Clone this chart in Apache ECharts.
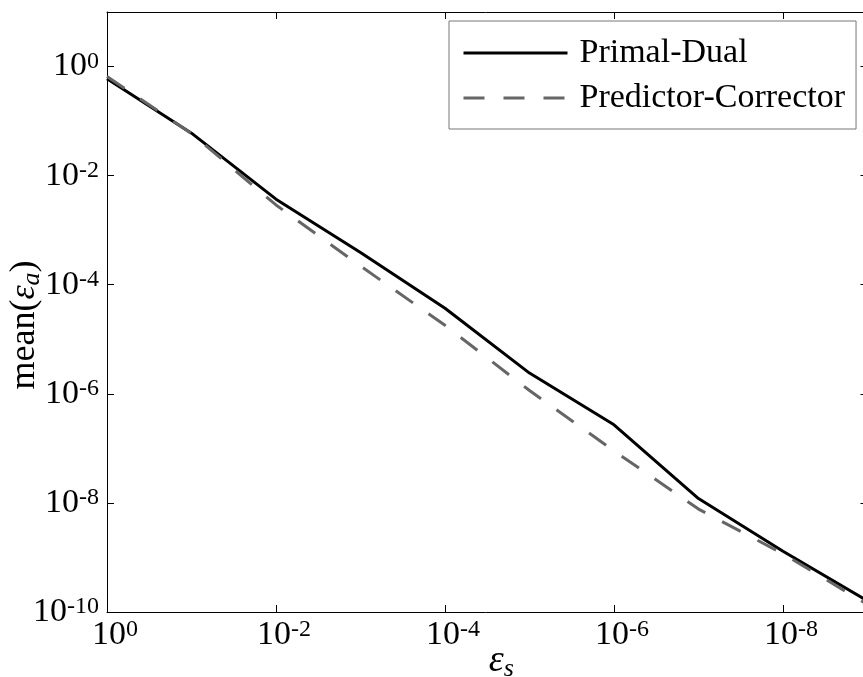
<!DOCTYPE html>
<html><head><meta charset="utf-8">
<script src="https://cdn.jsdelivr.net/npm/echarts@6/dist/echarts.min.js"></script>
<style>html,body{margin:0;padding:0;background:#fff}#c{width:863px;height:677px}</style>
</head><body><div id="c"></div>
<script>
// Data
const xValues = [1, 1e-1, 1e-2, 1e-3, 1e-4, 1e-5, 1e-6, 1e-7, 1e-8, 1e-9];
const primalDual = [0.60, 0.060, 3.7e-3, 3.9e-4, 3.7e-5, 2.4e-6, 2.7e-7, 1.2e-8, 1.3e-9, 1.6e-10];
const predictorCorrector = [0.66, 0.059, 2.9e-3, 2.2e-4, 1.8e-5, 1.15e-6, 9.0e-8, 7.7e-9, 1.17e-9, 1.37e-10];
const seriesNames = ['Primal-Dual', 'Predictor-Corrector'];
const xTickExponents = [0, -2, -4, -6, -8];
const yTickExponents = [0, -2, -4, -6, -8, -10];

const FONT = '"Liberation Serif", "DejaVu Serif", serif';

function pairs(xs, ys) { return xs.map((x, i) => [x, ys[i]]); }

function tickFormatter(list) {
  return function (v) {
    const e = Math.round(Math.log10(v));
    if (list.indexOf(e) < 0) return '';
    return '{b|10}{s|' + (e === 0 ? '0' : '-' + (-e)) + '}';
  };
}
const tickRich = {
  b: { fontSize: 34, fontFamily: FONT, color: '#000', lineHeight: 34 },
  s: { fontSize: 24, fontFamily: FONT, color: '#000', verticalAlign: 'top', lineHeight: 22 }
};

const chart = echarts.init(document.getElementById('c'), null, { renderer: 'canvas' });
const axisLine = { show: true, onZero: false, lineStyle: { color: '#000', width: 1 } };
const axisTick = { show: true, inside: true, length: 7, lineStyle: { color: '#000', width: 1 } };

chart.setOption({
  animation: false,
  backgroundColor: '#fff',
  grid: { left: 107, top: 12, right: -4.5, bottom: 65, containLabel: false, outerBoundsMode: 'none' },
  legend: {
    left: 449, top: 21, orient: 'vertical',
    data: seriesNames,
    itemWidth: 104, itemHeight: 14, itemGap: 11,
    padding: [15, 11, 14, 13],
    borderColor: '#777', borderWidth: 1, backgroundColor: '#fff',
    itemStyle: { opacity: 0 },
    lineStyle: { width: 3 },
    textStyle: { fontSize: 34, fontFamily: FONT, color: '#000', lineHeight: 34, padding: [0, 0, 0, 7] }
  },
  xAxis: [{
    type: 'log', logBase: 100, min: 1e-9, max: 1, inverse: true,
    position: 'bottom',
    axisLine: axisLine, axisTick: axisTick, splitLine: { show: false },
    axisLabel: { formatter: tickFormatter(xTickExponents), rich: tickRich, margin: 6, padding: [0, 0, 0, 16] },
    name: '{e|ε}{u|s}', nameLocation: 'middle', nameGap: 28, nameMoveOverlap: false,
    nameTextStyle: {
      padding: [0, 0, 0, 28],
      rich: {
        e: { fontSize: 38, fontFamily: FONT, fontStyle: 'italic', color: '#000' },
        u: { fontSize: 26, fontFamily: FONT, fontStyle: 'italic', color: '#000', verticalAlign: 'bottom', padding: [16, 0, 0, 0] }
      }
    }
  }, {
    type: 'log', logBase: 100, min: 1e-9, max: 1, inverse: true,
    position: 'top',
    axisLine: axisLine, axisTick: axisTick, splitLine: { show: false },
    axisLabel: { show: false }
  }],
  yAxis: [{
    type: 'log', logBase: 100, min: 1e-10, max: 10,
    position: 'left',
    axisLine: axisLine, axisTick: axisTick, splitLine: { show: false },
    axisLabel: { formatter: tickFormatter(yTickExponents), rich: tickRich, margin: 8 },
    name: '{m|mean(}{e|ε}{a|a}{m|)}', nameLocation: 'middle', nameGap: 62, nameRotate: 90, nameMoveOverlap: false,
    nameTextStyle: {
      padding: [0, 26, 0, 0],
      rich: {
        m: { fontSize: 36, fontFamily: FONT, color: '#000' },
        e: { fontSize: 36, fontFamily: FONT, fontStyle: 'italic', color: '#000' },
        a: { fontSize: 26, fontFamily: FONT, fontStyle: 'italic', color: '#000', verticalAlign: 'bottom', padding: [14, 0, 0, 0] }
      }
    }
  }, {
    type: 'log', logBase: 100, min: 1e-10, max: 10,
    position: 'right',
    axisLine: axisLine, axisTick: axisTick, splitLine: { show: false },
    axisLabel: { show: false }
  }],
  series: [{
    name: seriesNames[0], type: 'line', xAxisIndex: 0, yAxisIndex: 0,
    data: pairs(xValues, primalDual), symbol: 'none', showSymbol: false,
    lineStyle: { color: '#000', width: 3, type: 'solid' },
    itemStyle: { color: '#000' }
  }, {
    name: seriesNames[1], type: 'line', xAxisIndex: 0, yAxisIndex: 0,
    data: pairs(xValues, predictorCorrector), symbol: 'none', showSymbol: false,
    lineStyle: { color: '#666', width: 3, type: [21, 19] },
    itemStyle: { color: '#666' }
  }]
});
</script></body></html>
